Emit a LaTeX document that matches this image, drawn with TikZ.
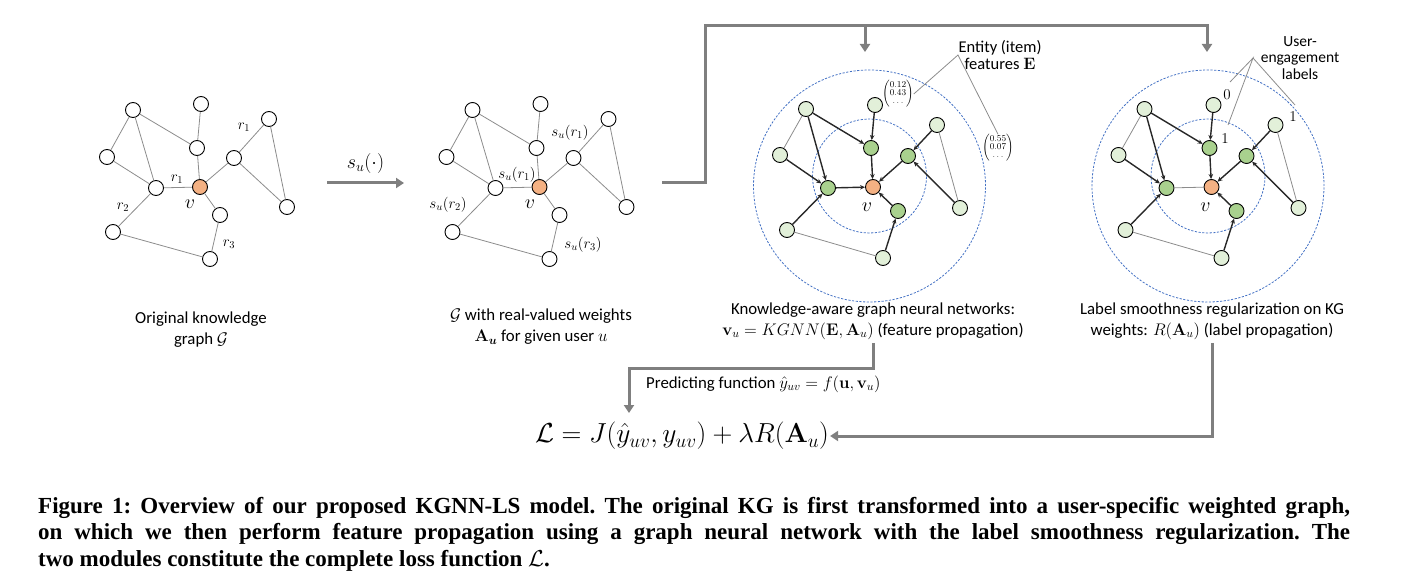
\documentclass[tikz,border=0pt]{standalone}
\usepackage{fix-cm}
\usepackage{amsmath,amssymb}
\usepackage[no-math]{fontspec}
\setmainfont{Carlito}
\newfontfamily\capfont{Liberation Serif}
\usetikzlibrary{arrows.meta,positioning,calc}
\definecolor{flowgray}{RGB}{127,127,127}
\definecolor{edgegray}{RGB}{140,140,140}
\definecolor{arcdark}{RGB}{40,40,40}
\definecolor{hopblue}{RGB}{68,114,196}
\definecolor{centre}{RGB}{244,177,131}
\definecolor{hopgreen}{RGB}{169,209,142}
\definecolor{palegreen}{RGB}{226,240,217}

\begin{document}
\begin{tikzpicture}[x=1pt,y=-1pt,
  every node/.style={font=\fontsize{16.8}{21}\selectfont,align=center},
  ent/.style={circle,draw,line width=0.9pt,fill=white,minimum size=15pt,inner sep=0pt},
  rel/.style={draw=edgegray,line width=0.8pt},
  arc/.style={draw=arcdark,line width=1.4pt,-{Stealth[length=5pt,width=4.5pt]}},
  hop/.style={circle,draw=hopblue,line width=0.8pt,dash pattern=on 2.2pt off 1.5pt,inner sep=0pt},
  flow/.style={draw=flowgray,line width=3pt,-{Triangle[length=8pt,width=10pt]}},
  rlab/.style={font=\fontsize{15}{17}\selectfont},
  vlab/.style={font=\fontsize{20}{22}\selectfont},
  lead/.style={draw=edgegray,line width=0.8pt},
  vec/.style={font=\fontsize{9}{10}\selectfont,inner sep=0pt}]
  \useasboundingbox (0,0) rectangle (1413,577);

  % knowledge graph and weighted graph
  \foreach \gr/\dx in {kg/0,wg/339.5}{
    \begin{scope}[xshift=\dx pt]
      \foreach \n/\px/\py in {a/133/110,b/201/104,c/269/119,d/107/157,e/197/148,f/234/158,
                              g/156/188,h/287/207,i/220/215,j/113/232,k/210/259}
        \node[ent] (\gr\n) at (\px,\py) {};
      \node[ent,fill=centre] (\gr v) at (200,187) {};
      \foreach \s/\t in {a/d,a/g,a/e,b/e,e/v,d/g,g/v,g/j,j/k,k/i,i/v,v/f,f/c,f/h,c/h}
        \draw[rel] (\gr\s) -- (\gr\t);
    \end{scope}
  }
  \node[rlab] (kgr1a) at (244,127) {$r_1$};
  \node[rlab] (kgr1b) at (177,179) {$r_1$};
  \node[rlab] (kgr2) at (123,207) {$r_2$};
  \node[rlab] (kgr3) at (229,244) {$r_3$};
  \node[vlab] (kgvl) at (190,204) {$v$};
  \node[rlab] (wgr1a) at (570,133) {$s_u(r_1)$};
  \node[rlab] (wgr1b) at (517,175) {$s_u(r_1)$};
  \node[rlab] (wgr2) at (448,205) {$s_u(r_2)$};
  \node[rlab] (wgr3) at (583,245) {$s_u(r_3)$};
  \node[vlab] (wgvl) at (530,204) {$v$};

  % KGNN graph and label smoothness graph
  \foreach \gr/\dx in {gn/0,ls/338.5}{
    \begin{scope}[xshift=\dx pt]
      \node[hop,minimum size=232pt] (\gr outer) at (869.5,186) {};
      \node[hop,minimum size=114pt] (\gr inner) at (869.5,176) {};
      \foreach \n/\px/\py in {a/806/109,b/875/105,c/937/125,d/780/155,h/960/208,j/787/230,k/883/258}
        \node[ent,fill=palegreen] (\gr\n) at (\px,\py) {};
      \foreach \n/\px/\py in {e/871/148,f/908/156,g/828/188,i/898/211}
        \node[ent,fill=hopgreen] (\gr\n) at (\px,\py) {};
      \node[ent,fill=centre] (\gr v) at (873,187) {};
      \foreach \s/\t in {a/d,j/k,c/h}
        \draw[rel] (\gr\s) -- (\gr\t);
      \foreach \s/\t in {a/g,a/e,b/e,e/v,d/g,j/g,k/i,i/v,f/v,c/f,h/f}
        \draw[arc] (\gr\s) -- (\gr\t);
    \end{scope}
  }
  \draw[arc] (gng) -- (gnv);
  \draw[rel] (lsg) -- (lsv);
  \node[vlab] (gnvl) at (867,207) {$v$};
  \node[vlab] (lsvl) at (1205.5,207) {$v$};

  \node[vec] (vecb) at (898,94) {$\begin{pmatrix}0.12\\[-2pt]0.43\\[-2pt]\dots\end{pmatrix}$};
  \node[vec] (vech) at (998,148) {$\begin{pmatrix}0.55\\[-2pt]0.07\\[-2pt]\dots\end{pmatrix}$};
  \node[font=\fontsize{16.5}{17.5}\selectfont] (entlbl) at (1000,55) {Entity (item)\\features $\mathbf{E}$};
  \coordinate (entfork) at (958,55);
  \draw[lead] (vecb.east) -- (entfork) -- (vech.north);

  \node[rlab] (lab0) at (1227,95) {$0$};
  \node[rlab] (lab1a) at (1225,139) {$1$};
  \node[rlab] (lab1b) at (1293,117) {$1$};
  \node[font=\fontsize{15.5}{16.7}\selectfont] (uelbl) at (1300,58) {User-\\engagement\\labels};
  \coordinate (uefork) at (1253,58);
  \draw[lead] (1230,82) -- (uefork) -- (1228,125);
  \draw[lead] (uefork) -- (1295,105);

  % captions under the graphs
  \node (kgcap) at (201,330) {Original knowledge\\graph $\mathcal{G}$};
  \node (wgcap) at (541,327) {$\mathcal{G}$ with real-valued weights\\$\mathbf{A}_{\boldsymbol{u}}$ for given user $u$};
  \node (gncap) at (873,321) {Knowledge-aware graph neural networks:\\$\mathbf{v}_u = KGNN(\mathbf{E},\mathbf{A}_u)$ (feature propagation)};
  \node (lscap) at (1212,321) {Label smoothness regularization on KG\\weights: $R(\mathbf{A}_u)$ (label propagation)};

  % flows
  \coordinate (kgout) at (327,183);
  \coordinate (wgin) at (404,183);
  \draw[flow] (kgout) -- node[above=5pt,font=\fontsize{20}{22}\selectfont] (sulbl) {$s_u(\cdot)$} (wgin);
  \coordinate (wgout) at (662,183);
  \coordinate (fork) at (705,26);
  \coordinate (gnin) at (865,52);
  \coordinate (lsin) at (1207,52);
  \draw[flow] (wgout) -| (fork) -| (lsin);
  \draw[flow] (gnin |- fork) -- (gnin);

  \node[font=\fontsize{27.5}{30}\selectfont,inner sep=1pt] (loss) at (682,436) {$\mathcal{L} = J(\hat{y}_{uv}, y_{uv}) + \lambda R(\mathbf{A}_u)$};
  \node[anchor=west,inner sep=1pt] (predlbl) at (645,384) {Predicting function $\hat{y}_{uv} = f(\mathbf{u},\mathbf{v}_u)$};
  \coordinate (predin) at (629,413);
  \draw[flow] (gncap.south) |- ($(predin)+(0,-45)$) -- (predin);
  \draw[flow] (lscap.south) |- (loss.east);

  \node[anchor=north west,text width=1312pt,align=justify,inner sep=0pt,
        font=\capfont\bfseries\fontsize{23}{26.5}\selectfont\frenchspacing] (figcap) at (38,497)
    {Figure 1: Overview of our proposed KGNN-LS model. The original KG is first transformed into a user-specific weighted graph,\linebreak
     on which we then perform feature propagation using a graph neural network with the label smoothness regularization. The\linebreak
     two modules constitute the complete loss function $\mathcal{L}$.};
\end{tikzpicture}
\end{document}
